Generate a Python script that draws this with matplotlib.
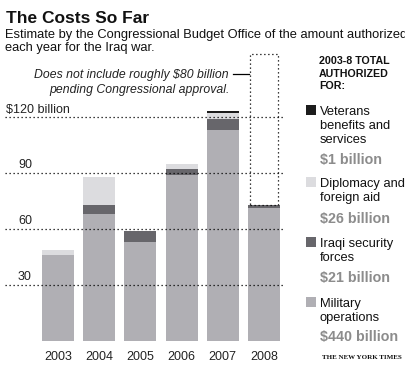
import matplotlib
matplotlib.use("Agg")
import matplotlib.pyplot as plt
from matplotlib.lines import Line2D
from matplotlib.patches import Rectangle
import numpy as np

plt.rcParams['font.family'] = ['Liberation Sans', 'DejaVu Sans']

years = ['2003', '2004', '2005', '2006', '2007', '2008']
military = [46, 68, 53, 89, 113, 71]
security = [0, 5, 6, 3, 6, 2]
diplomacy = [3, 15, 0, 3, 3, 0]
veterans = [0, 0, 0, 0, 1, 0]
pending = [0, 0, 0, 0, 0, 81]
grid_vals = [30, 60, 90, 120]
grid_labels = ['30', '60', '90', '$120 billion']

legend_names = [['Veterans', 'benefits and', 'services'],
                ['Diplomacy and', 'foreign aid'],
                ['Iraqi security', 'forces'],
                ['Military', 'operations']]
legend_totals = ['$1 billion', '$26 billion', '$21 billion', '$440 billion']

C_MIL = '#b0afb4'
C_SEC = '#67666b'
C_DIP = '#dcdcdf'
C_VET = '#1c1c1c'

W, H = 406, 371
fig = plt.figure(figsize=(W / 100, H / 100), dpi=100)
fig.patch.set_facecolor('white')

def fx(x):
    return x / W

def fy(y):
    return 1 - y / H

def T(x, y, s, **kw):
    kw.setdefault('va', 'baseline')
    return fig.text(fx(x), fy(y), s, **kw)

# axes: x pixels 5..285, y pixel 341 = 0
ppu = 168 / 90.0  # pixels per unit
left_px, right_px = 5, 285
bottom_px, top_px = 341, 40
ax = fig.add_axes([fx(left_px), fy(bottom_px), (right_px - left_px) / W, (bottom_px - top_px) / H])
c0, step = 58, 41.2
ax.set_xlim((left_px - c0) / step, (right_px - c0) / step)
ax.set_ylim(0, (bottom_px - top_px) / ppu)
ax.axis('off')

x = np.arange(len(years))
bw = 0.777
m = np.array(military, float)
s = np.array(security, float)
d = np.array(diplomacy, float)
v = np.array(veterans, float)
ax.bar(x, m, bw, color=C_MIL, zorder=2, linewidth=0)
ax.bar(x, s, bw, bottom=m, color=C_SEC, zorder=2, linewidth=0)
ax.bar(x, d, bw, bottom=m + s, color=C_DIP, zorder=2, linewidth=0)
ax.bar(x, v, bw, bottom=m + s + d, color=C_VET, zorder=2, linewidth=0)
tot = m + s + d + v
pend = np.array(pending, float)
for i in range(len(years)):
    if pend[i] > 0:
        ax.bar(x[i], pend[i], 0.70, bottom=tot[i], fill=False, edgecolor='black',
               linewidth=0.9, linestyle=(0, (1, 2.2)), zorder=3)

for gv in grid_vals:
    ax.axhline(gv, color='black', linewidth=0.9, linestyle=(0, (1, 2.2)), zorder=4)

# grid labels
for gv, gl in zip(grid_vals, grid_labels):
    ypx = bottom_px - gv * ppu - 4.5
    T(6 if gl.startswith('$') else 18, ypx, gl, fontsize=9, color='#222222')

for i, yr in enumerate(years):
    T(c0 + step * i, 360, yr, fontsize=9, ha='center', color='#222222')

# title and subtitle
T(6, 23, 'The Costs So Far', fontsize=12.5, fontweight='heavy', color='#111111')
T(5, 38, 'Estimate by the Congressional Budget Office of the amount authorized',
  fontsize=9.3, color='#111111')
T(5, 51, 'each year for the Iraq war.', fontsize=9.3, color='#111111')

# annotation
T(229, 78, 'Does not include roughly $80 billion', fontsize=8.8, style='italic',
  ha='right', color='#222222')
T(230, 93, 'pending Congressional approval.', fontsize=8.8, style='italic',
  ha='right', color='#222222')
fig.add_artist(Line2D([fx(233), fx(249)], [fy(74), fy(74)], color='black', linewidth=0.9))

# legend
for i, line in enumerate(['2003-8 TOTAL', 'AUTHORIZED', 'FOR:']):
    T(319, 64.3 + 12.4 * i, line, fontsize=7.7, fontweight='bold', color='#111111')

first_base = [115, 186.7, 246.7, 306.7]
total_base = [164, 222.7, 281.7, 340.7]
colors = [C_VET, C_DIP, C_SEC, C_MIL]
for names, tb, fb, col, tt in zip(legend_names, total_base, first_base, colors, legend_totals):
    fig.add_artist(Rectangle((fx(306), fy(fb)), 10 / W, 10 / H, facecolor=col,
                             edgecolor='none'))
    for j, nm in enumerate(names):
        T(320, fb + 14.2 * j, nm, fontsize=9.3, color='#111111')
    T(320, tb, tt, fontsize=10.3, fontweight='bold', color='#8c8c8c')

T(322, 359, 'THE NEW YORK TIMES', fontsize=5.0, family='Liberation Serif',
  fontweight='bold', color='#111111')

fig.savefig('out.png', dpi=100)
